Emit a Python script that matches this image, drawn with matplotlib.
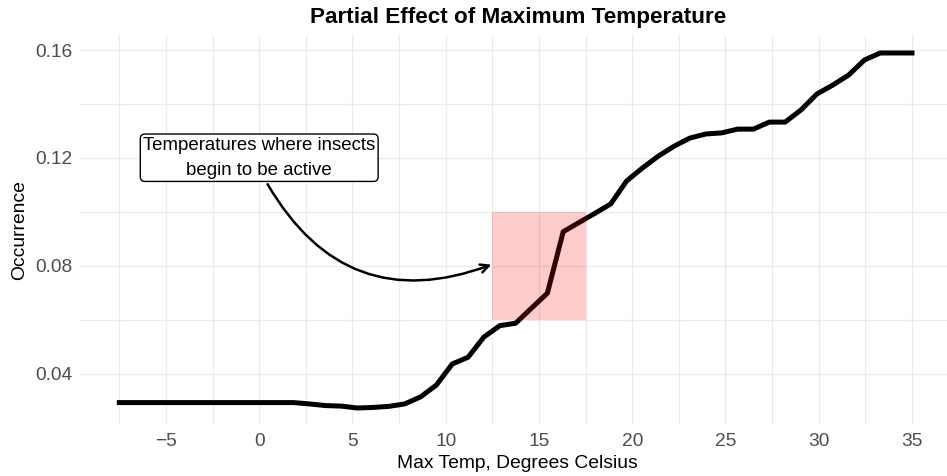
import matplotlib
matplotlib.use("Agg")
import matplotlib.pyplot as plt
import numpy as np
from matplotlib.patches import Rectangle, FancyArrowPatch

plt.rcParams['font.family'] = ['Liberation Sans', 'DejaVu Sans']

# Data
temp = [-7.5 + 0.85 * k for k in range(51)]
occurrence = [
    0.0294, 0.0294, 0.0294, 0.0294, 0.0294, 0.0294, 0.0294, 0.0294, 0.0294, 0.0294,
    0.0294, 0.0294, 0.0289, 0.0283, 0.0281, 0.0274, 0.0276, 0.0280, 0.0289, 0.0315,
    0.0359, 0.0437, 0.0462, 0.0537, 0.0579, 0.0588, 0.0644, 0.0699, 0.0927, 0.0961,
    0.0995, 0.1030, 0.1115, 0.1163, 0.1207, 0.1244, 0.1274, 0.1289, 0.1293, 0.1307,
    0.1307, 0.1333, 0.1333, 0.1378, 0.1437, 0.1470, 0.1507, 0.1563, 0.1589, 0.1589,
    0.1589,
]
x_ticks = [-5, 0, 5, 10, 15, 20, 25, 30, 35]
x_ticklabels = ['\u22125', '0', '5', '10', '15', '20', '25', '30', '35']
y_ticks = [0.04, 0.08, 0.12, 0.16]
y_ticklabels = ['0.04', '0.08', '0.12', '0.16']
highlight_x = (12.5, 17.5)
highlight_y = (0.06, 0.10)
label_text = "Temperatures where insects\nbegin to be active"
label_pos = (0.0, 0.1201)
arrow_start = (0.45, 0.1103)
arrow_end = (12.45, 0.0805)

W, H = 947, 476
fig = plt.figure(figsize=(W / 100, H / 100), dpi=100)
left, right, top, bottom = 79.7, 951.6, 35, 425
ax = fig.add_axes([left / W, (H - bottom) / H, (right - left) / W, (bottom - top) / H])

for s in ax.spines.values():
    s.set_visible(False)

ax.set_xticks(x_ticks)
ax.set_xticklabels(x_ticklabels)
ax.set_xticks([-7.5 + 5 * i for i in range(10)], minor=True)
ax.set_yticks(y_ticks)
ax.set_yticklabels(y_ticklabels)
ax.set_yticks([0.06, 0.10, 0.14], minor=True)
ax.tick_params(which='both', length=0)
ax.tick_params(axis='x', pad=5.5, labelsize=13.8, labelcolor='#4d4d4d')
ax.tick_params(axis='y', pad=5.3, labelsize=13.8, labelcolor='#4d4d4d')
ax.grid(which='major', color='#ebebeb', linewidth=1.0)
ax.grid(which='minor', color='#ebebeb', linewidth=0.8)
ax.set_axisbelow(True)

ax.plot(temp, occurrence, color='black', linewidth=3.6, solid_joinstyle='round', zorder=3)

ax.add_patch(Rectangle((highlight_x[0], highlight_y[0]), highlight_x[1] - highlight_x[0],
                       highlight_y[1] - highlight_y[0], facecolor='red', alpha=0.2,
                       edgecolor='none', zorder=4))

# limits set after ticks so tick setting cannot widen them
ax.set_xlim(-9.625, 37.125)
ax.set_ylim(0.0211, 0.16556)

arrow = FancyArrowPatch(arrow_start, arrow_end, connectionstyle='arc3,rad=0.42',
                        arrowstyle='->,head_length=6,head_width=3', color='black',
                        linewidth=1.8, zorder=5, shrinkA=0, shrinkB=0)
ax.add_patch(arrow)

ax.text(label_pos[0], label_pos[1], label_text, ha='center', va='center', fontsize=13.4,
        linespacing=1.6, color='black', zorder=6,
        bbox=dict(boxstyle='round,pad=0.15,rounding_size=0.25', facecolor='white',
                  edgecolor='black', linewidth=1.0))

fig.text(517 / W, 1 - 468.3 / H, 'Max Temp, Degrees Celsius', ha='center', va='baseline',
         fontsize=13.9, color='black')
fig.text(19.5 / W, 1 - 230 / H, 'Occurrence', ha='center', va='center', rotation=90,
         fontsize=13.9, color='black')
fig.text(518 / W, 1 - 23.3 / H, 'Partial Effect of Maximum Temperature',
         ha='center', va='baseline', fontsize=16.2, fontweight='bold')

fig.savefig('out.png', dpi=100)
